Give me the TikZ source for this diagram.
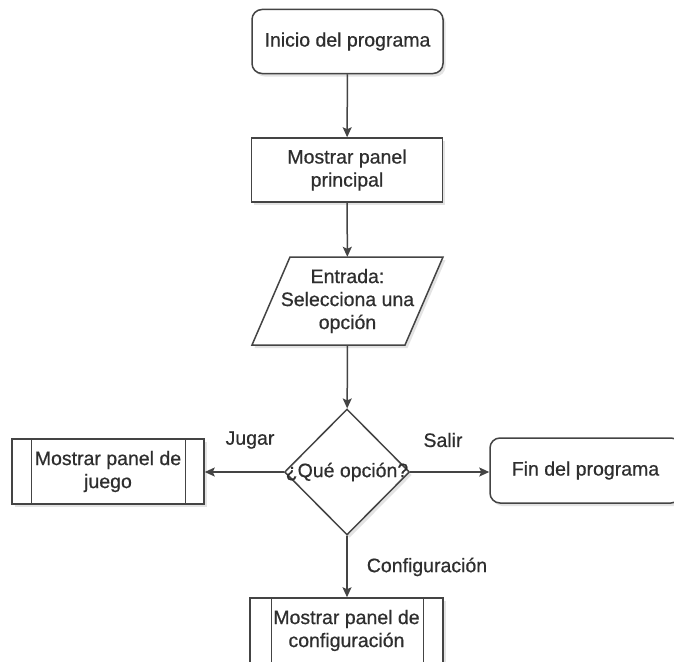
\documentclass[tikz,border=0pt]{standalone}
\usepackage{fontspec}
\setmainfont{Liberation Sans}
\newfontfamily\diafont{Liberation Sans}[FakeBold=0.6]
\usetikzlibrary{arrows.meta,shadows,shapes.geometric}
\definecolor{edge}{HTML}{444444}
\definecolor{ink}{HTML}{2E2E2E}
\begin{document}
\begin{tikzpicture}[x=1pt,y=-1pt,
  every node/.style={font=\diafont\fontsize{19.5}{23}\selectfont, text=ink, align=center},
  soft/.style={drop shadow={shadow xshift=2.5pt, shadow yshift=-3pt, opacity=0.22}},
  outline/.style={draw=edge, line width=1.5pt},
  box/.style={outline, fill=white, inner sep=0pt, minimum width=191pt, minimum height=64pt, soft},
  rbox/.style={box, rounded corners=10pt},
  arr/.style={outline, -{Stealth[length=10pt,width=9pt,inset=2pt]}},
  sidebar/.style={outline, line width=1.2pt}
]
\clip (0,0) rectangle (674,661);
\fill[white] (0,0) rectangle (674,661);

% process steps
\node[rbox] (start) at (347.5,41.5) {Inicio del programa};
\node[box] (panel) at (347,170) {Mostrar panel\\principal};

% input parallelogram
\draw[outline, fill=white, soft] (290,257) -- (443,257) -- (405,345) -- (252,345) -- cycle;
\node[inner sep=0pt, minimum width=191pt, minimum height=88pt] (entrada) at (347.5,301) {Entrada:\\Selecciona una\\opción};

% decision
\node[diamond, outline, fill=white, minimum width=125pt, minimum height=126pt, inner sep=0pt, soft] (q) at (347,472) {};

% predefined processes
\node[box, minimum width=192pt, minimum height=65pt] (juego) at (108,471.5) {Mostrar panel de\\juego};
\draw[sidebar] ([xshift=20pt]juego.north west) -- ([xshift=20pt]juego.south west);
\draw[sidebar] ([xshift=-19pt]juego.north east) -- ([xshift=-19pt]juego.south east);

\node[box, minimum width=193pt, minimum height=65pt] (config) at (346.5,630.5) {Mostrar panel de\\configuración};
\draw[sidebar] ([xshift=22pt]config.north west) -- ([xshift=22pt]config.south west);
\draw[sidebar] ([xshift=-20pt]config.north east) -- ([xshift=-20pt]config.south east);

% terminator
\node[rbox, minimum height=65pt] (fin) at (585.5,470.5) {Fin del programa};

% connectors
\draw[arr] (start) -- (panel);
\draw[arr] (panel) -- (entrada);
\draw[arr] (entrada) -- (q);
\draw[arr] (q.west) -- (q.west -| juego.east);
\draw[arr] (q.east) -- (q.east -| fin.west);
\draw[arr] (q.south) -- (q.south |- config.north);

% decision text and branch labels
\node (qtext) at (q.center) {¿Qué opción?};
\node (jugar) at (250,440) {Jugar};
\node (salir) at (443,440) {Salir};
\node (conf) at (427,567) {Configuración};
\end{tikzpicture}
\end{document}
